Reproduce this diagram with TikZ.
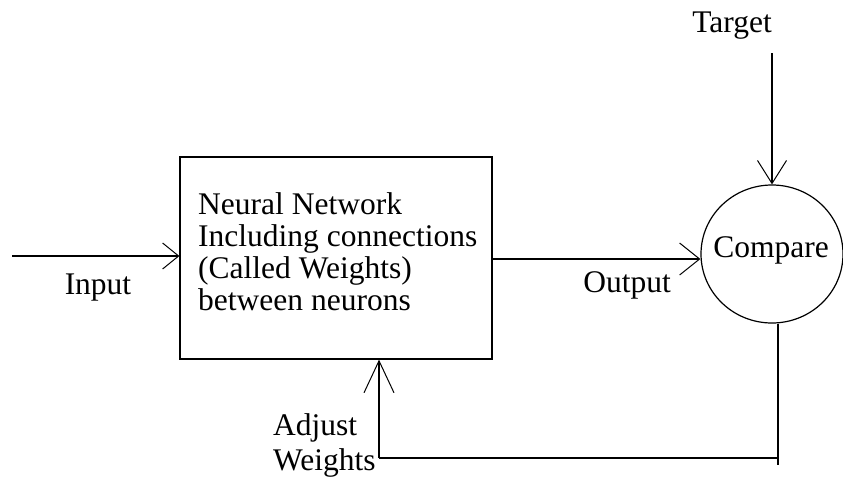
\documentclass[tikz,border=0pt]{standalone}
\usepackage{fontspec}
\setmainfont{Liberation Serif}
\usetikzlibrary{arrows.meta,shapes.geometric}
\begin{document}
\begin{tikzpicture}[x=1pt,y=-1pt,
  every node/.style={font=\fontsize{31.5}{32}\selectfont, inner sep=0pt},
  line/.style={line width=1.2pt, draw=black},
  arr/.style 2 args={line, -{Straight Barb[length=#1,width=#2,line width=1pt]}},
  block/.style={line, rectangle, minimum width=312pt, minimum height=202pt},
  cmpshape/.style={line, ellipse, minimum width=142pt, minimum height=138pt}]
  \useasboundingbox (0,0) rectangle (843,485);

  % main blocks
  \node[block] (nn) at (336,258) {};
  \node[align=left, anchor=west] (nntext) at (198,252)
    {Neural Network\\Including connections\\(Called Weights)\\between neurons};
  \node[cmpshape] (cmp) at (772,254) {};
  \node (cmptext) at (771,250) {Compare};

  % free ends of the connectors
  \coordinate (inp) at (12,256);
  \coordinate (tgt) at (772,53);
  \coordinate (fb) at (778,458);
  \coordinate (fbend) at (778,465);
  \coordinate (adj) at (379,458);

  % connectors
  \draw[arr={16pt}{26pt}] (inp) -- (inp -| nn.west);
  \draw[arr={20pt}{32pt}] ([yshift=-5]nn.east |- cmp.west) -- ([yshift=-5]cmp.west);
  \draw[arr={23pt}{29pt}] (tgt) -- (cmp.north);
  \draw[line] (cmp.south -| fb) -- (fbend);
  \draw[line] (fb) -- (adj);
  \draw[arr={32pt}{30pt}] (adj) -- (adj |- nn.south);

  % labels
  \node (linput) at (98,288) {Input};
  \node (loutput) at (627,285) {Output};
  \node (ltarget) at (732,26) {Target};
  \node[align=left, anchor=west, font=\fontsize{31.5}{35}\selectfont] (ladjust) at (273,445) {Adjust\\Weights};
\end{tikzpicture}
\end{document}
